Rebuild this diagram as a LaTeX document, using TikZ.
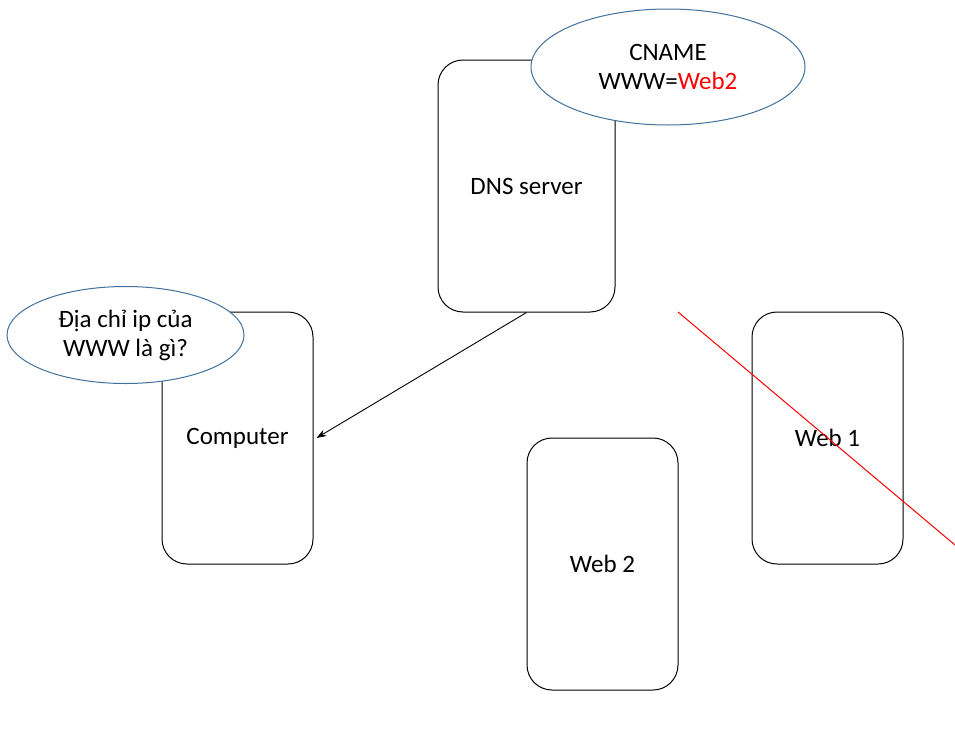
\documentclass[tikz,border=0pt]{standalone}
\usepackage{fontspec}
\setmainfont{Carlito}
\usetikzlibrary{shapes.geometric,arrows.meta}
\definecolor{ellline}{HTML}{41719C}
\definecolor{redline}{HTML}{FF0000}
\begin{document}
\begin{tikzpicture}[x=1pt,y=-1pt,
  box/.style={draw=black,line width=1pt,rounded corners=25pt,fill=white,
    minimum width=#1,minimum height=252pt,inner sep=0pt,font=\fontsize{25}{29}\selectfont},
  bubble/.style={ellipse,draw=ellline,line width=1pt,fill=white,inner sep=0pt,
    align=center,font=\fontsize{25}{29}\selectfont},
  conn/.style={draw=black,line width=0.9pt,-{Stealth[length=10pt,width=7pt]}}]
\useasboundingbox (0,0) rectangle (955,728);
\node[box=177pt] (dns) at (526.5,186) {DNS server};
\node[box=151pt] (comp) at (237.5,438) {Computer};
\node[box=151pt] (web2) at (602.5,564) {Web 2};
\node[box=151pt] (web1) at (827.5,438) {Web 1};
\node[bubble,minimum width=274pt,minimum height=116pt] (cname) at (668,67)
  {CNAME\\WWW=\textcolor{redline}{Web2}};
\node[bubble,minimum width=237pt,minimum height=97pt] (ask) at (125.5,335)
  {Địa chỉ ip của\\WWW là gì?};
\draw[conn] (dns.south) -- ([xshift=3pt]comp.east);
\coordinate (rs) at (678,312);
\coordinate (re) at (955,545);
\draw[redline,line width=1pt] (rs) -- (re);
\end{tikzpicture}
\end{document}
